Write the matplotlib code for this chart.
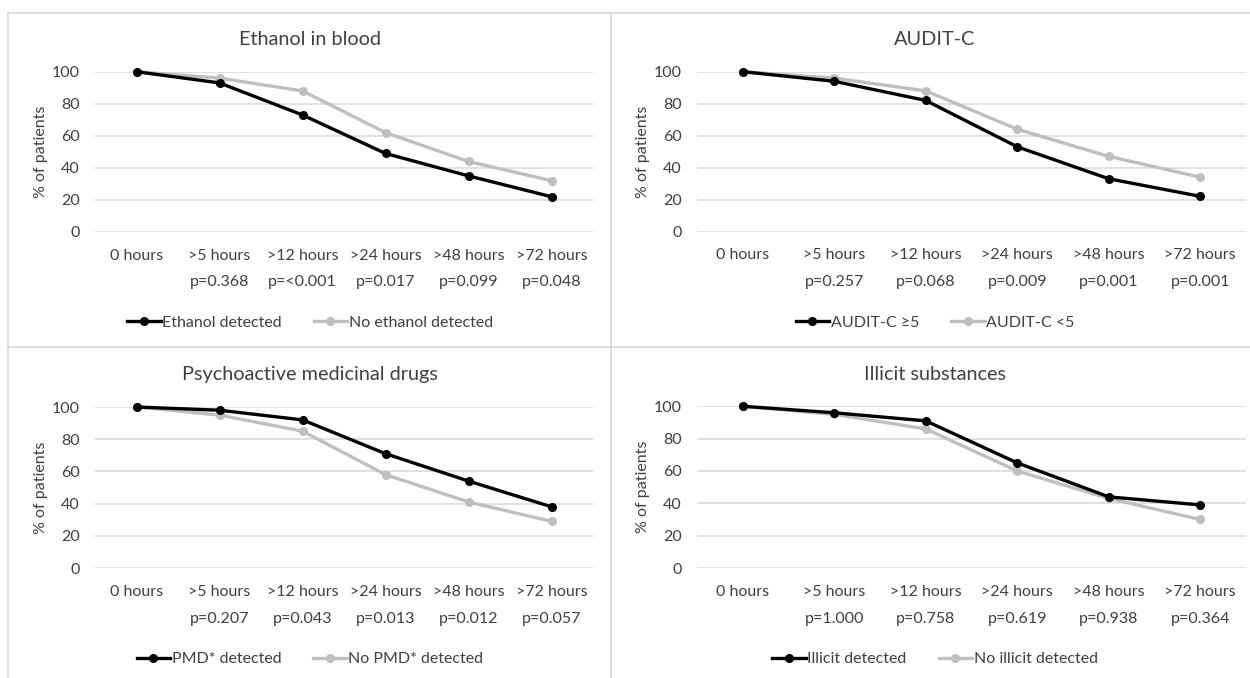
import matplotlib
matplotlib.use("Agg")
import matplotlib.pyplot as plt
from matplotlib.lines import Line2D
from matplotlib.transforms import blended_transform_factory

plt.rcParams['font.family'] = ['Lato', 'DejaVu Sans']

categories = ["0 hours", ">5 hours", ">12 hours", ">24 hours", ">48 hours", ">72 hours"]

titles = ["Ethanol in blood", "AUDIT-C", "Psychoactive medicinal drugs", "Illicit substances"]

ethanol_yes = [100, 93, 73, 49, 35, 22]
ethanol_no = [100, 96, 88, 62, 44, 32]
ethanol_p = ["", "p=0.368", "p=<0.001", "p=0.017", "p=0.099", "p=0.048"]

auditc_hi = [100, 94, 82, 53, 33, 22]
auditc_lo = [100, 96, 88, 64, 47, 34]
auditc_p = ["", "p=0.257", "p=0.068", "p=0.009", "p=0.001", "p=0.001"]

pmd_yes = [100, 98, 92, 71, 54, 38]
pmd_no = [100, 95, 85, 58, 41, 29]
pmd_p = ["", "p=0.207", "p=0.043", "p=0.013", "p=0.012", "p=0.057"]

illicit_yes = [100, 96, 91, 65, 44, 39]
illicit_no = [100, 95, 86, 60, 43, 30]
illicit_p = ["", "p=1.000", "p=0.758", "p=0.619", "p=0.938", "p=0.364"]

series = [
    (ethanol_yes, ethanol_no, "Ethanol detected", "No ethanol detected", ethanol_p),
    (auditc_hi, auditc_lo, "AUDIT-C \u22655", "AUDIT-C <5", auditc_p),
    (pmd_yes, pmd_no, "PMD* detected", "No PMD* detected", pmd_p),
    (illicit_yes, illicit_no, "Illicit detected", "No illicit detected", illicit_p),
]

W, H = 1250, 678
fig = plt.figure(figsize=(W / 100, H / 100), dpi=100)
fig.patch.set_facecolor("white")

TXT = "#404040"
GRID = "#d9d9d9"
BLACK = "#000000"
GRAY = "#bfbfbf"
FS = 11.5

# axes boxes in pixels: (left, right, y0 pixel, y100 pixel)
boxes = [
    (95, 593, 232, 71.7),
    (697, 1246, 231.5, 71.7),
    (95, 593, 568, 407),
    (697, 1246, 568, 406.3),
]
legend_pos = [(310, 322.5), (935, 322.5), (310, 659), (935, 659)]
title_y = [39.5, 39.5, 374.5, 374.5]
ylabel_x = [48, 650, 48, 650]

for i, (b, s) in enumerate(zip(boxes, series)):
    l, r, y0, y1 = b
    ax = fig.add_axes([l / W, 1 - y0 / H, (r - l) / W, (y0 - y1) / H])
    x = list(range(len(categories)))
    yes, no, lab1, lab2, pv = s
    h1, = ax.plot(x, yes, color=BLACK, lw=2.4, marker="o", ms=5.5, clip_on=False, zorder=4)
    h2, = ax.plot(x, no, color=GRAY, lw=2.4, marker="o", ms=5.5, clip_on=False, zorder=3)
    ax.set_xlim(-0.5, len(categories) - 0.5)
    ax.set_ylim(0, 100)
    ax.set_yticks([0, 20, 40, 60, 80, 100])
    ax.set_xticks(x)
    ax.set_xticklabels(categories)
    ax.grid(axis="y", color=GRID, lw=1.1)
    ax.set_axisbelow(True)
    for sp in ax.spines.values():
        sp.set_visible(False)
    ax.tick_params(axis="both", length=0, labelsize=FS, colors=TXT)
    ax.tick_params(axis="y", pad=11)
    ax.tick_params(axis="x", pad=12)
    ax.set_ylabel("% of patients", fontsize=FS, color=TXT)
    ax.yaxis.set_label_coords((ylabel_x[i] - l) / (r - l), 0.5)
    trans = blended_transform_factory(ax.transData, ax.transAxes)
    for xi, p in zip(x, pv):
        if p:
            ax.text(xi, -0.315, p, transform=trans, ha="center", va="center",
                    fontsize=FS, color=TXT)
    fig.text(legend_pos[i][0] / W, 1 - title_y[i] / H, titles[i],
             ha="center", va="center", fontsize=14.3, color=TXT)
    fig.legend([h1, h2], [lab1, lab2], loc="center",
               bbox_to_anchor=(legend_pos[i][0] / W, 1 - legend_pos[i][1] / H),
               ncol=2, frameon=False, fontsize=FS, labelcolor=TXT,
               handlelength=2.1, handletextpad=0.1, columnspacing=2.0)

def hline(y, x0, x1):
    fig.add_artist(Line2D([x0 / W, x1 / W], [1 - y / H, 1 - y / H], color=GRID, lw=1.2))

def vline(x, y0, y1):
    fig.add_artist(Line2D([x / W, x / W], [1 - y0 / H, 1 - y1 / H], color=GRID, lw=1.2))

hline(12.7, 8, 1250)
hline(346.5, 8, 1250)
vline(8, 12.7, 678)
vline(611, 12.7, 678)

fig.savefig("out.png", dpi=100, facecolor="white")
